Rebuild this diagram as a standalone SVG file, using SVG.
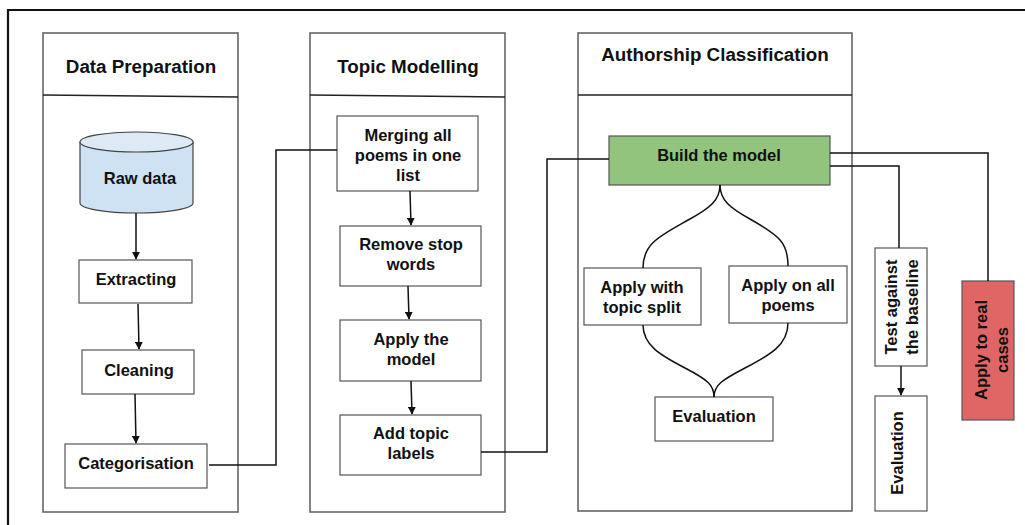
<svg xmlns="http://www.w3.org/2000/svg" width="1025" height="525" viewBox="0 0 1025 525">
<style>
text{font-family:"Liberation Sans",Arial,sans-serif;font-weight:bold;fill:#111;text-anchor:middle;dominant-baseline:central}
.t{font-size:18.8px}
.n{font-size:16.5px}
.panel{fill:#fff;stroke:#666;stroke-width:1.6}
.box{fill:#fff;stroke:#555;stroke-width:1.2}
.c{fill:none;stroke:#111;stroke-width:1.5}
</style>
<defs>
<marker id="ah" viewBox="0 0 10 10" refX="9" refY="5" markerWidth="8" markerHeight="8" markerUnits="userSpaceOnUse" orient="auto"><path d="M0,0 L10,5 L0,10 z" fill="#111"/></marker>
</defs>
<rect width="1025" height="525" fill="#fff"/>
<path d="M8,530 L8,10 L1030,10" fill="none" stroke="#111" stroke-width="2.2"/>

<g id="panel-data-preparation">
<rect class="panel" x="43" y="33" width="195" height="479"/>
<line x1="43" y1="95" x2="238" y2="97" stroke="#222" stroke-width="1.5"/>
<text class="t" x="141" y="66">Data Preparation</text>
</g>
<g id="panel-topic-modelling">
<rect class="panel" x="310" y="33" width="195" height="479"/>
<line x1="310" y1="95" x2="505" y2="97" stroke="#222" stroke-width="1.5"/>
<text class="t" x="408" y="66">Topic Modelling</text>
</g>
<g id="panel-authorship">
<rect class="panel" x="578" y="33" width="274" height="478"/>
<line x1="578" y1="95" x2="852" y2="95" stroke="#222" stroke-width="1.5"/>
<text class="t" x="715" y="54">Authorship Classification</text>
</g>

<g id="raw-data">
<path d="M80,142 L80,203 A56.5,10 0 0 0 193,203 L193,142" fill="#cfe2f3" stroke="#444" stroke-width="1.2"/>
<ellipse cx="136.5" cy="142" rx="56.5" ry="10" fill="#dde9f5" stroke="#444" stroke-width="1.2"/>
<text class="n" x="140" y="178">Raw data</text>
</g>
<g id="extracting"><rect class="box" x="79" y="260" width="113" height="43"/><text class="n" x="136" y="279">Extracting</text></g>
<g id="cleaning"><rect class="box" x="82" y="350" width="112" height="44"/><text class="n" x="139" y="370">Cleaning</text></g>
<g id="categorisation"><rect class="box" x="65" y="444" width="142" height="44"/><text class="n" x="136" y="463">Categorisation</text></g>

<g id="merging"><rect class="box" x="337" y="116" width="141" height="75"/>
<text class="n" x="408" y="135">Merging all</text><text class="n" x="408" y="155">poems in one</text><text class="n" x="408" y="175">list</text></g>
<g id="remove-stop-words"><rect class="box" x="340" y="226" width="141" height="60"/>
<text class="n" x="411" y="244">Remove stop</text><text class="n" x="411" y="264">words</text></g>
<g id="apply-the-model"><rect class="box" x="340" y="320" width="141" height="61"/>
<text class="n" x="411" y="339">Apply the</text><text class="n" x="411" y="359">model</text></g>
<g id="add-topic-labels"><rect class="box" x="340" y="415" width="141" height="60"/>
<text class="n" x="411" y="433">Add topic</text><text class="n" x="411" y="453">labels</text></g>

<g id="build-the-model"><rect x="609" y="136" width="221" height="49" fill="#93c47d" stroke="#555" stroke-width="1.2"/>
<text class="n" x="719" y="155">Build the model</text></g>
<g id="apply-topic-split"><rect class="box" x="584" y="268" width="117" height="57"/>
<text class="n" x="642" y="287">Apply with</text><text class="n" x="642" y="307">topic split</text></g>
<g id="apply-all-poems"><rect class="box" x="729" y="266" width="118" height="57"/>
<text class="n" x="788" y="285">Apply on all</text><text class="n" x="788" y="305">poems</text></g>
<g id="evaluation-1"><rect class="box" x="655" y="397" width="118" height="44"/>
<text class="n" x="714" y="416">Evaluation</text></g>

<g id="test-baseline"><rect class="box" x="875" y="248" width="52" height="118"/>
<text class="n" transform="translate(891,307) rotate(-90)">Test against</text>
<text class="n" transform="translate(912,307) rotate(-90)">the baseline</text></g>
<g id="evaluation-2"><rect class="box" x="875" y="396" width="52" height="115"/>
<text class="n" transform="translate(897,453) rotate(-90)">Evaluation</text></g>
<g id="apply-real-cases"><rect x="962" y="281" width="52" height="139" fill="#e06666" stroke="#555" stroke-width="1.2"/>
<text class="n" transform="translate(981,350) rotate(-90)">Apply to real</text>
<text class="n" transform="translate(1002,350) rotate(-90)">cases</text></g>

<g id="connectors">
<line class="c" x1="136" y1="213" x2="136" y2="259" marker-end="url(#ah)"/>
<line class="c" x1="138" y1="304" x2="139" y2="349" marker-end="url(#ah)"/>
<line class="c" x1="135" y1="394" x2="136" y2="443" marker-end="url(#ah)"/>
<path class="c" d="M209,465 L276,465 L276,150 L337,150"/>
<line class="c" x1="410" y1="191" x2="411" y2="225" marker-end="url(#ah)"/>
<line class="c" x1="408" y1="286" x2="409" y2="319" marker-end="url(#ah)"/>
<line class="c" x1="411" y1="381" x2="412" y2="414" marker-end="url(#ah)"/>
<path class="c" d="M481,452 L547,452 L547,159 L609,159"/>
<path class="c" d="M720,185 C720,200 710,208 690,219 C660,236 643,243 643,268"/>
<path class="c" d="M720,185 C720,200 730,208 750,219 C780,236 788,243 788,266"/>
<path class="c" d="M643,325 C643,345 660,355 685,368 C708,380 714,385 714,397"/>
<path class="c" d="M788,323 C788,345 770,355 745,368 C722,380 714,385 714,397"/>
<path class="c" d="M830,153 L988,153 L988,281"/>
<path class="c" d="M830,166 L899,166 L899,248"/>
<line class="c" x1="901" y1="366" x2="901" y2="395" marker-end="url(#ah)"/>
</g>
</svg>
